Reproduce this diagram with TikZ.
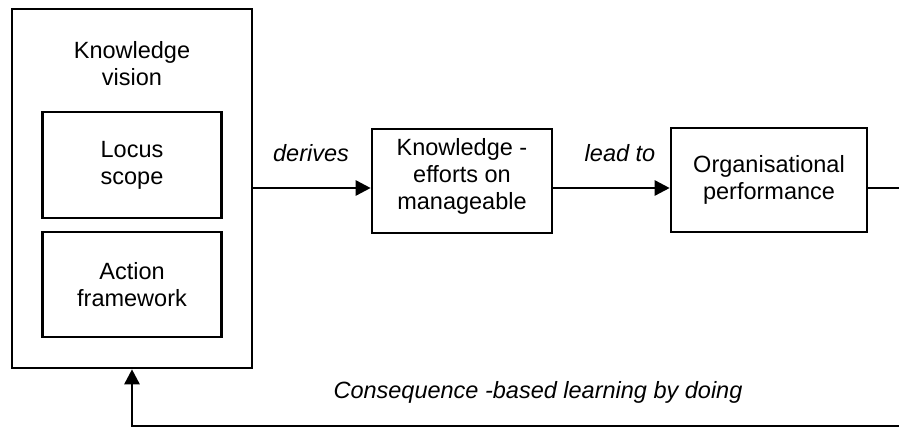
\documentclass[tikz,border=0pt]{standalone}
\usepackage{fontspec}
\setmainfont{Liberation Sans}
\usetikzlibrary{arrows.meta, positioning}

\begin{document}
\begin{tikzpicture}[x=1pt, y=-1pt, >={Triangle[length=15pt, width=15pt]},
        every node/.style={font=\fontsize{23.5}{27}\selectfont, align=center, inner sep=0pt},
        box/.style={rectangle, draw, line width=2.6pt},
        lbl/.style={font=\fontsize{23.5}{27}\selectfont\itshape},
        link/.style={line width=2.6pt}]

        \clip (0,0) rectangle (899,428);

        % Nodes
        \node[box, minimum width=240pt, minimum height=359pt] (vision) at (132,188.5) {};
        \node (visiontxt) at (132,64) {Knowledge\\vision};
        \node[box, minimum width=179pt, minimum height=106pt] (locus) at (132,165) {Locus\\scope};
        \node[box, minimum width=179pt, minimum height=105pt] (action) at (132,284.5) {Action\\framework};
        \node[box, minimum width=180pt, minimum height=104pt] (efforts) at (462,181) {};
        \node (effortstxt) at (462,176) {Knowledge -\\efforts on\\manageable};
        \node[box, minimum width=196pt, minimum height=104pt] (perf) at (769,180) {Organisational\\performance};
        \coordinate (mid) at (0,188);
        \coordinate (corner) at (910,426);

        % Labels
        \node[lbl] (derives) at (311,153) {derives};
        \node[lbl] (leadto) at (620,153) {lead to};
        \node[lbl] (learning) at (538,392) {Consequence -based learning by doing};

        % Edges
        \draw[->, link] (vision.east |- mid) -- (efforts.west |- mid);
        \draw[->, link] (efforts.east |- mid) -- (perf.west |- mid);
        \draw[->, link] (perf.east |- mid) -- (corner |- mid) -- (corner) -- (vision.south |- corner) -- (vision.south);
\end{tikzpicture}
\end{document}
